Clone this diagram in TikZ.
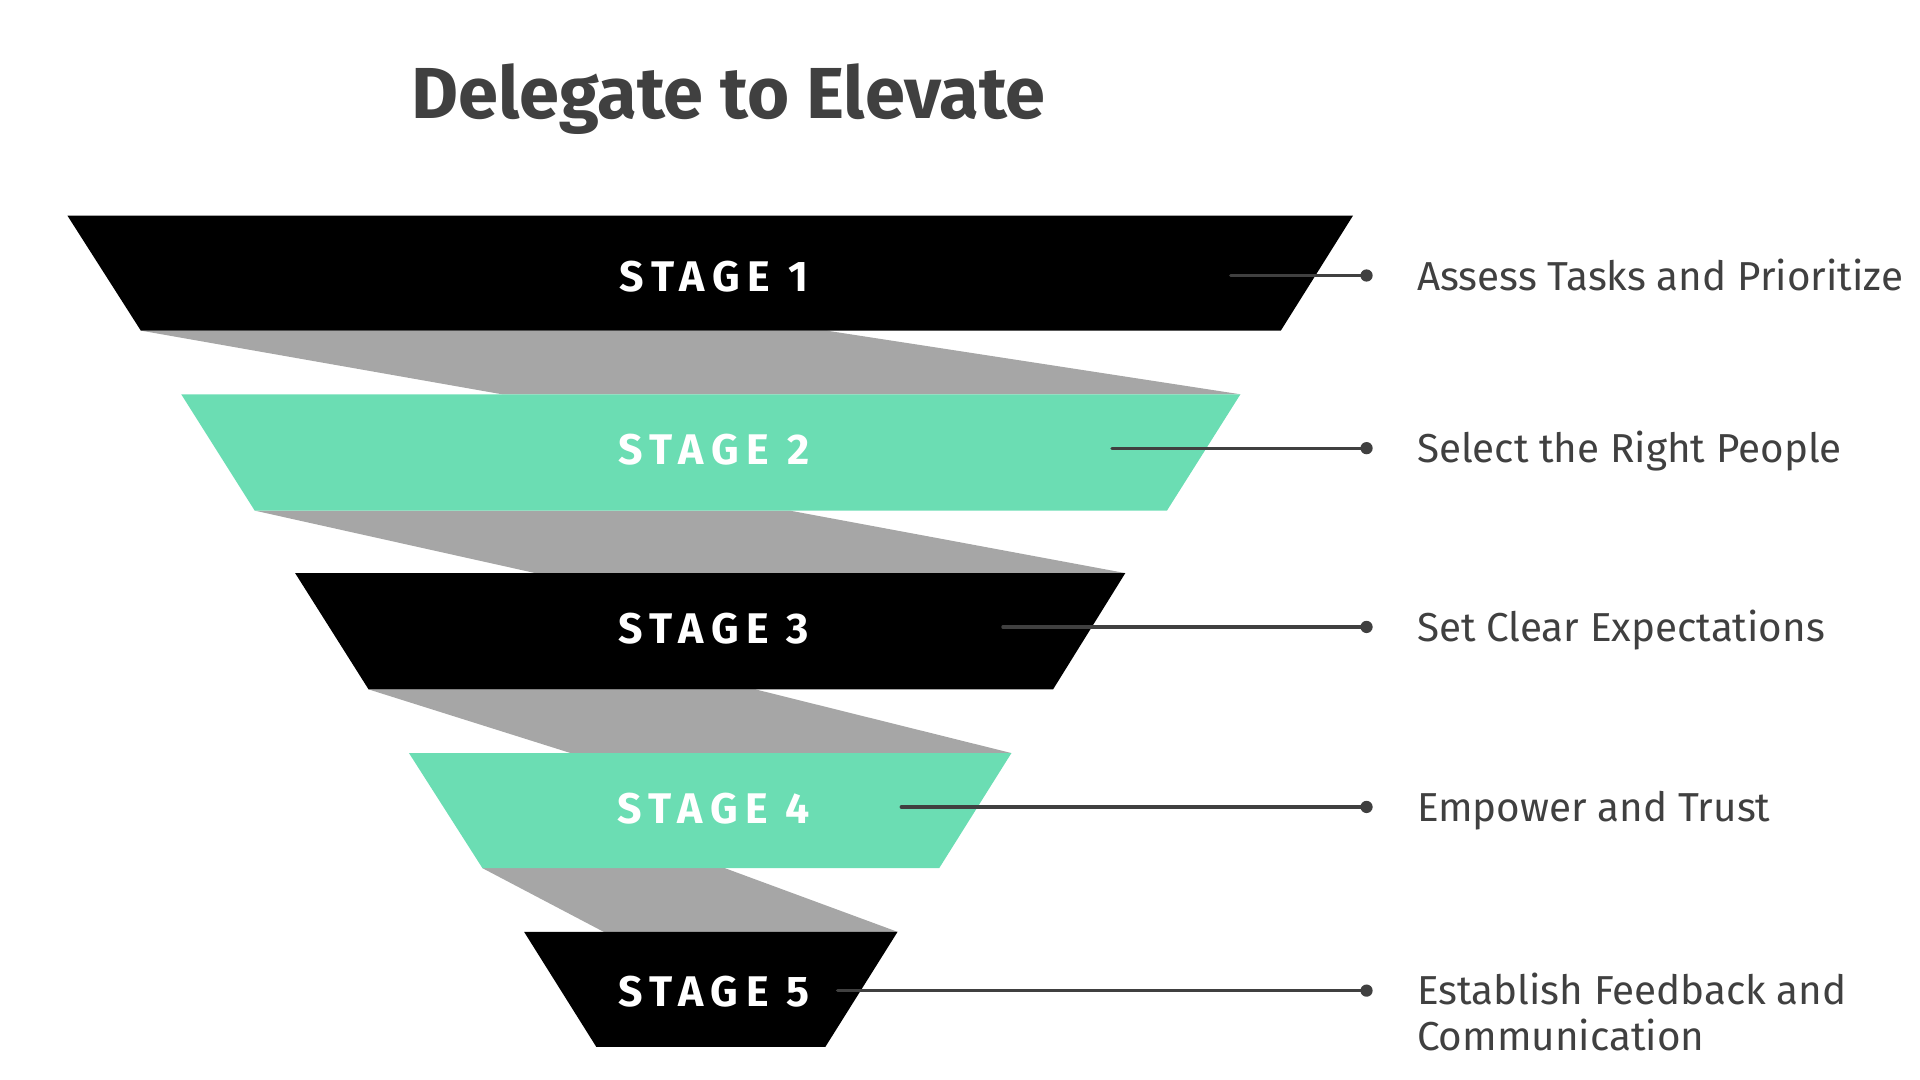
\documentclass[tikz,border=0pt]{standalone}
\usepackage{fontspec}
\setmainfont{Fira Sans}
\newfontfamily\titlefont{Fira Sans Bold}
\newfontfamily\stagefont{Fira Sans Bold}[LetterSpace=18]
\definecolor{ink}{HTML}{404040}
\definecolor{band}{HTML}{A6A6A6}
\definecolor{teal}{HTML}{6BDDB3}
\tikzset{
  bandfill/.style={fill=band},
  darkstage/.style={fill=black},
  tealstage/.style={fill=teal},
  stagetxt/.style={text=white,font=\stagefont\fontsize{35}{40}\selectfont,inner sep=0pt},
  lbl/.style={text=ink,font=\fontsize{33}{40}\selectfont,inner sep=0pt,anchor=base west},
  link/.style={draw=ink,line width=2.6pt,line cap=round},
  dot/.style={circle,fill=ink,inner sep=0pt,minimum size=10pt}
}
\begin{document}
\begin{tikzpicture}[x=1pt,y=-1pt]
\useasboundingbox (0,0) rectangle (1568,882);
% title
\node[text=ink,font=\titlefont\fontsize{59}{64}\selectfont,inner sep=0pt,anchor=base] (title) at (595,97) {Delegate to Elevate};
% gray bands
\fill[bandfill] (115,270) -- (675,270) -- (1013,322) -- (410,322) -- cycle;
\fill[bandfill] (208,417) -- (645,417) -- (919,468) -- (437,468) -- cycle;
\fill[bandfill] (301,563) -- (617,563) -- (826,615) -- (466,615) -- cycle;
\fill[bandfill] (394,709) -- (592,709) -- (733,761) -- (493,761) -- cycle;
% stages
\fill[darkstage] (55,176) -- (1105,176) -- (1046,270) -- (115,270) -- cycle;
\fill[tealstage] (148,322) -- (1013,322) -- (953,417) -- (208,417) -- cycle;
\fill[darkstage] (241,468) -- (919,468) -- (860,563) -- (301,563) -- cycle;
\fill[tealstage] (334,615) -- (826,615) -- (767,709) -- (394,709) -- cycle;
\fill[darkstage] (428,761) -- (733,761) -- (674,855) -- (487,855) -- cycle;
% stage labels
\node[stagetxt] (s1) at (583,226) {STAGE 1};
\node[stagetxt] (s2) at (583,367) {STAGE 2};
\node[stagetxt] (s3) at (583,513) {STAGE 3};
\node[stagetxt] (s4) at (583,660) {STAGE 4};
\node[stagetxt] (s5) at (583,810) {STAGE 5};
% connector start points and dots
\coordinate (a1) at (1005,225);
\coordinate (a2) at (908,366);
\coordinate (a3) at (819,512);
\coordinate (a4) at (736,659);
\coordinate (a5) at (684,809);
\node[dot] (d1) at (1116,225) {};
\node[dot] (d2) at (1116,366) {};
\node[dot] (d3) at (1116,512) {};
\node[dot] (d4) at (1116,659) {};
\node[dot] (d5) at (1116,809) {};
\draw[link] (a1) -- (d1.center);
\draw[link] (a2) -- (d2.center);
\draw[link] (a3) -- (d3.center);
\draw[link] (a4) -- (d4.center);
\draw[link] (a5) -- (d5.center);
% right labels
\node[lbl] (l1) at (1157,237) {Assess Tasks and Prioritize};
\node[lbl] (l2) at (1157,378) {Select the Right People};
\node[lbl] (l3) at (1157,524) {Set Clear Expectations};
\node[lbl] (l4) at (1157,671) {Empower and Trust};
\node[lbl] (l5) at (1157,820) {Establish Feedback and};
\node[lbl] (l5b) at (1157,858) {Communication};
\end{tikzpicture}
\end{document}
